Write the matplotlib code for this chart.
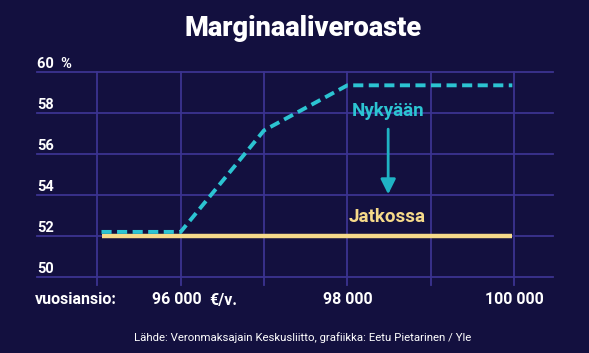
import matplotlib
matplotlib.use("Agg")
import matplotlib.pyplot as plt
import matplotlib.transforms as mtransforms

# ---- data ----
nyky_x = [95050, 96000, 97000, 98000, 99980]
nyky_y = [52.2, 52.2, 57.15, 59.35, 59.35]
jatko_x = [95050, 99980]
jatko_y = [52.0, 52.0]
yticks = [50, 52, 54, 56, 58, 60]
ytick_labels = ["50", "52", "54", "56", "58", "60  %"]
xticks = [96000, 98000, 100000]
xtick_labels = ["96 000", "98 000", "100 000"]
xgrid = [95000, 96000, 97000, 98000, 99000, 100000]
title = "Marginaaliveroaste"
source = "Lähde: Veronmaksajain Keskusliitto, grafiikka: Eetu Pietarinen / Yle"
arrow_x = 98490
arrow_from = 57.35
arrow_to = 53.9

BG = "#13103f"
GRID = "#3b3390"
CYAN = "#2cc4d2"
YELLOW = "#f6da8a"
WHITE = "#ffffff"
FONT = ["Roboto", "DejaVu Sans"]

fig = plt.figure(figsize=(5.89, 3.53), dpi=100, facecolor=BG)
W, H = 589, 353
left, right, top, bottom = 37, 553, 72, 285
ax = fig.add_axes([left / W, 1 - bottom / H, (right - left) / W, (bottom - top) / H])
ax.set_facecolor(BG)
ax.set_xlim(94276, 100468)
ax.set_ylim(49.61, 60.0)
for s in ax.spines.values():
    s.set_visible(False)
ax.set_xticks([])
ax.set_yticks([])

for v in yticks:
    ax.axhline(v, color=GRID, lw=1.3, zorder=1, clip_on=False)
for v in xgrid:
    ax.axvline(v, color=GRID, lw=1.3, zorder=1, clip_on=False)

ax.plot(jatko_x, jatko_y, color=YELLOW, lw=3.2, solid_capstyle="butt", zorder=3)
ax.plot(nyky_x, nyky_y, color=CYAN, lw=2.8, ls=(0, (2.6, 1.4)), dash_capstyle="butt", zorder=4)

ax.annotate("", xy=(arrow_x, arrow_to), xytext=(arrow_x, arrow_from),
            arrowprops=dict(arrowstyle="-|>,head_length=0.9,head_width=0.45", color="#1fb3c4", lw=2),
            zorder=5)

ax.text(arrow_x, 58.1, "Nykyään", color=CYAN, fontsize=13.5, fontweight="bold", family=FONT,
        ha="center", va="center", zorder=6)
ax.text(arrow_x - 10, 52.92, "Jatkossa", color=YELLOW, fontsize=13.5, fontweight="bold", family=FONT,
        ha="center", va="center", zorder=6)

# y labels inside, above gridlines
ytrans = mtransforms.blended_transform_factory(fig.transFigure, ax.transData)
for v, lab in zip(yticks, ytick_labels):
    ax.text(left / W, v + 0.4, lab, transform=ytrans, color=WHITE, fontsize=10.5, fontweight="bold",
            family=FONT, ha="left", va="center")

# x labels
xtrans = mtransforms.blended_transform_factory(ax.transData, fig.transFigure)
ylab = 1 - 300 / H
first = None
for v, lab in zip(xticks, xtick_labels):
    t = ax.text(v - (50 if v == xticks[0] else 0), ylab, lab, transform=xtrans, color=WHITE,
                fontsize=11.5, fontweight="bold", family=FONT, ha="center", va="center")
    if first is None:
        first = t
ax.annotate("€/v.", xy=(1, 0.5), xycoords=first, xytext=(6, 0), textcoords="offset points",
            color=WHITE, fontsize=11.5, fontweight="bold", family=FONT, ha="left", va="center")
fig.text(35 / W, ylab, "vuosiansio:", color=WHITE, fontsize=11.5, fontweight="bold", family=FONT,
         ha="left", va="center")

fig.text(303 / W, 1 - 28 / H, title, color=WHITE, fontsize=19.5, fontweight="black", family=FONT,
         ha="center", va="center")
fig.text(303 / W, 1 - 338 / H, source, color=WHITE, fontsize=8.2, family=FONT,
         ha="center", va="center")

fig.savefig("out.png", dpi=100, facecolor=BG)
